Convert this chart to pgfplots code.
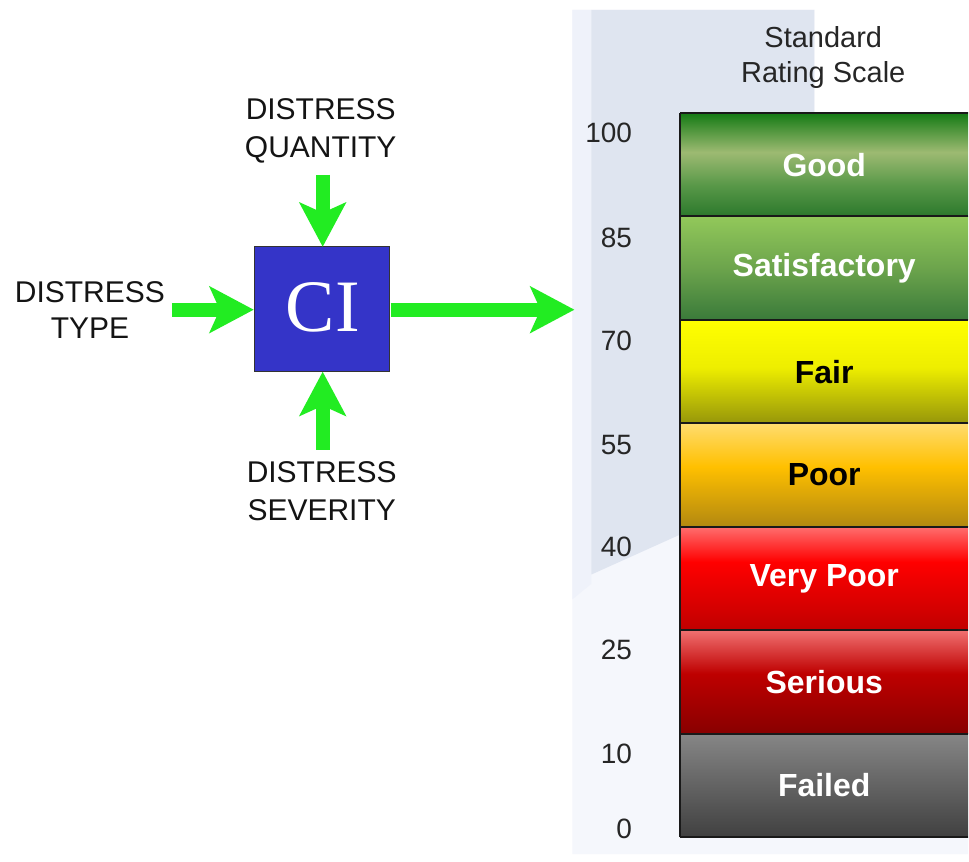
\documentclass[border=0pt]{standalone}
\usepackage{pgfplots}
\pgfplotsset{compat=1.18}
\usepackage{fontspec}
\setmainfont{Liberation Sans}
\newfontfamily\cifont{Liberation Serif}
\usetikzlibrary{arrows.meta}

\definecolor{arrowgreen}{RGB}{34,236,34}
\definecolor{ciblue}{RGB}{52,52,200}
\definecolor{paneldark}{RGB}{223,229,240}
\definecolor{panellight}{RGB}{245,247,252}
\definecolor{panelstrip}{RGB}{239,242,250}
% band colours
\definecolor{gA}{RGB}{44,120,44}\definecolor{gB}{RGB}{88,152,72}\definecolor{gC}{RGB}{157,186,114}\definecolor{gD}{RGB}{20,122,20}
\definecolor{sA}{RGB}{58,122,58}\definecolor{sB}{RGB}{108,164,76}\definecolor{sC}{RGB}{146,200,90}
\definecolor{fA}{RGB}{150,150,10}\definecolor{fB}{RGB}{238,238,0}\definecolor{fC}{RGB}{255,255,0}
\definecolor{pA}{RGB}{178,136,16}\definecolor{pB}{RGB}{255,192,0}\definecolor{pC}{RGB}{255,220,110}
\definecolor{vA}{RGB}{192,0,0}\definecolor{vB}{RGB}{255,0,0}\definecolor{vC}{RGB}{255,110,110}
\definecolor{rA}{RGB}{136,0,0}\definecolor{rB}{RGB}{190,0,0}\definecolor{rC}{RGB}{240,112,112}
\definecolor{xA}{RGB}{64,64,64}\definecolor{xC}{RGB}{134,134,134}

\pgfdeclareverticalshading{good}{100bp}{color(0bp)=(gA); color(25bp)=(gA); color(40bp)=(gB); color(56bp)=(gC); color(75bp)=(gD); color(100bp)=(gD)}
\pgfdeclareverticalshading{satis}{100bp}{color(0bp)=(sA); color(25bp)=(sA); color(50bp)=(sB); color(75bp)=(sC); color(100bp)=(sC)}
\pgfdeclareverticalshading{fair}{100bp}{color(0bp)=(fA); color(25bp)=(fA); color(52bp)=(fB); color(75bp)=(fC); color(100bp)=(fC)}
\pgfdeclareverticalshading{poor}{100bp}{color(0bp)=(pA); color(25bp)=(pA); color(54bp)=(pB); color(75bp)=(pC); color(100bp)=(pC)}
\pgfdeclareverticalshading{vpoor}{100bp}{color(0bp)=(vA); color(25bp)=(vA); color(58bp)=(vB); color(75bp)=(vC); color(100bp)=(vC)}
\pgfdeclareverticalshading{serious}{100bp}{color(0bp)=(rA); color(25bp)=(rA); color(54bp)=(rB); color(75bp)=(rC); color(100bp)=(rC)}
\pgfdeclareverticalshading{failed}{100bp}{color(0bp)=(xA); color(25bp)=(xA); color(75bp)=(xC); color(100bp)=(xC)}

\begin{document}
\begin{tikzpicture}
\begin{axis}[
  scale only axis, width=484.5pt, height=431pt,
  xmin=0, xmax=969, ymin=-0.2317, ymax=8.0911,
  hide axis, clip=false, no markers,
]
% page background
\addplot[fill=white, draw=none] coordinates {(0,-0.2317) (969,-0.2317) (969,8.0911) (0,8.0911)} -- cycle;
% light backdrop
\addplot[fill=panellight, draw=none] coordinates {(573,-0.164) (969,-0.164) (969,7) (815,7) (815,7.995) (573,7.995)} -- cycle;
\addplot[fill=panelstrip, draw=none] coordinates {(573,2.3) (592,2.45) (592,7.995) (573,7.995)} -- cycle;
\addplot[fill=paneldark, draw=none] coordinates {(592,2.539) (681,2.926) (815,2.926) (815,7.995) (592,7.995)} -- cycle;

% rating bands (band index: 0 = 0-10, ..., 6 = 85-100)
\addplot[draw=none, shading=failed]  coordinates {(681,0) (969,0) (969,1) (681,1)} -- cycle;
\addplot[draw=none, shading=serious] coordinates {(681,1) (969,1) (969,2) (681,2)} -- cycle;
\addplot[draw=none, shading=vpoor]   coordinates {(681,2) (969,2) (969,3) (681,3)} -- cycle;
\addplot[draw=none, shading=poor]    coordinates {(681,3) (969,3) (969,4) (681,4)} -- cycle;
\addplot[draw=none, shading=fair]    coordinates {(681,4) (969,4) (969,5) (681,5)} -- cycle;
\addplot[draw=none, shading=satis]   coordinates {(681,5) (969,5) (969,6) (681,6)} -- cycle;
\addplot[draw=none, shading=good]    coordinates {(681,6) (969,6) (969,7) (681,7)} -- cycle;
% band outlines
\foreach \k in {0,...,7}{
  \edef\tmp{\noexpand\addplot[black!90, line width=0.9pt] coordinates {(681,\k) (969,\k)};}\tmp
}
\addplot[black!90, line width=0.9pt] coordinates {(681,0) (681,7)};

% band labels
\begin{scope}[font=\fontsize{16}{19}\selectfont\bfseries]
\node[white] at (axis cs:825,6.5) {Good};
\node[white] at (axis cs:825,5.5) {Satisfactory};
\node[black] at (axis cs:825,4.5) {Fair};
\node[black] at (axis cs:825,3.5) {Poor};
\node[white] at (axis cs:825,2.5) {Very Poor};
\node[white] at (axis cs:825,1.5) {Serious};
\node[white] at (axis cs:825,0.5) {Failed};
\end{scope}

% scale numbers
\begin{scope}[font=\fontsize{14}{16}\selectfont, text=black!85]
\node[anchor=east, inner sep=0pt] at (axis cs:633,6.807) {100};
\node[anchor=east, inner sep=0pt] at (axis cs:633,5.793) {85};
\node[anchor=east, inner sep=0pt] at (axis cs:633,4.799) {70};
\node[anchor=east, inner sep=0pt] at (axis cs:633,3.795) {55};
\node[anchor=east, inner sep=0pt] at (axis cs:633,2.810) {40};
\node[anchor=east, inner sep=0pt] at (axis cs:633,1.806) {25};
\node[anchor=east, inner sep=0pt] at (axis cs:633,0.801) {10};
\node[anchor=east, inner sep=0pt] at (axis cs:633,0.077) {0};
\node[align=center, font=\fontsize{14.5}{17.5}\selectfont] at (axis cs:824,7.536) {Standard\\Rating Scale};
\end{scope}

% CI box
\addplot[fill=ciblue, draw=black!80, line width=0.6pt] coordinates {(255,4.499) (390,4.499) (390,5.706) (255,5.706)} -- cycle;
\node[white, font=\cifont\fontsize{37}{40}\selectfont] at (axis cs:323,5.12) {CI};

% arrows
\pgfplotsset{garrow/.style={arrowgreen, line width=7pt, -{Stealth[length=22pt, width=23pt, inset=5pt]}}}
\addplot[garrow] coordinates {(323,6.401) (323,5.706)};
\addplot[garrow] coordinates {(323,3.746) (323,4.499)};
\addplot[garrow] coordinates {(172,5.098) (254,5.098)};
\addplot[garrow] coordinates {(391,5.098) (575,5.098)};

% diagram labels
\begin{scope}[font=\fontsize{15}{19}\selectfont, text=black!92]
\node[align=center] at (axis cs:321,6.826) {DISTRESS\\QUANTITY};
\node[align=center, font=\fontsize{15}{18}\selectfont] at (axis cs:90,5.098) {DISTRESS\\TYPE};
\node[align=center] at (axis cs:322,3.346) {DISTRESS\\SEVERITY};
\end{scope}
\end{axis}
\end{tikzpicture}
\end{document}
